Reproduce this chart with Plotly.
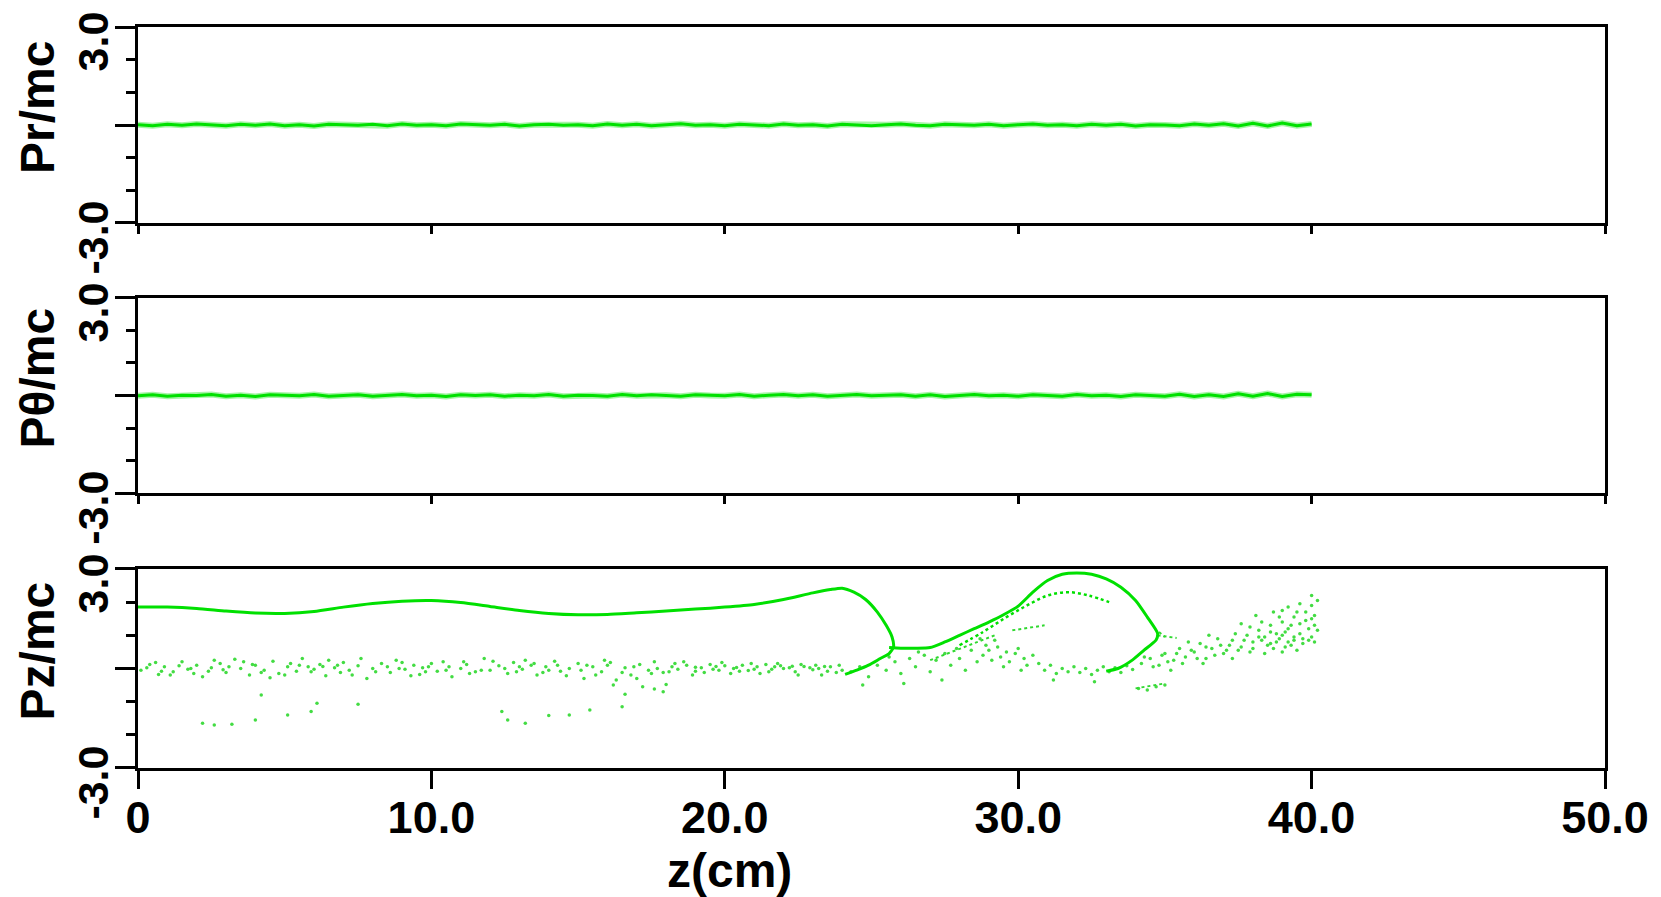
import plotly.graph_objects as go

FONT = "Liberation Sans, Arial, sans-serif"
LINE_GREEN = "#00e000"
DOT_GREEN = "#2fd82f"

# ---- Pr/mc and Ptheta/mc, sampled every 0.5 cm from z = 0 to 40 cm ----
z_step = 0.5
pr_mom = [0.01, -0.02, 0.02, -0.01, 0.03, 0.00, -0.02, 0.02, -0.01, 0.03,
          -0.02, 0.01, -0.03, 0.02, 0.01, -0.01, 0.02, -0.02, 0.03, -0.01,
          0.01, -0.02, 0.03, 0.00, -0.01, 0.02, -0.03, 0.01, 0.02, -0.01,
          0.01, -0.02, 0.03, -0.01, 0.02, -0.02, 0.01, 0.04, -0.01, 0.01,
          -0.02, 0.02, 0.00, -0.02, 0.03, -0.01, 0.01, -0.03, 0.02, 0.01,
          -0.02, 0.01, 0.03, -0.01, -0.02, 0.02, 0.00, -0.01, 0.02, -0.02,
          0.01, 0.03, -0.01, 0.01, -0.02, 0.02, -0.01, 0.02, -0.03, 0.01,
          0.00, -0.02, 0.03, -0.01, 0.04, -0.03, 0.05, -0.03, 0.06, -0.02, 0.03]
pt_mom = [-0.01, 0.02, -0.02, 0.01, 0.00, 0.03, -0.02, 0.01, -0.03, 0.02,
          0.01, -0.01, 0.03, -0.02, 0.00, 0.02, -0.02, 0.01, 0.03, -0.01,
          0.01, -0.03, 0.02, 0.00, 0.02, -0.02, 0.01, -0.01, 0.03, -0.02,
          0.01, 0.00, -0.02, 0.03, -0.01, 0.02, 0.01, -0.02, 0.02, 0.00,
          -0.01, 0.03, -0.02, 0.01, 0.03, -0.01, 0.02, -0.02, 0.01, 0.03,
          -0.01, 0.00, 0.02, -0.02, 0.02, -0.03, 0.01, 0.03, -0.01, 0.01,
          -0.02, 0.02, 0.00, -0.02, 0.03, -0.01, 0.01, -0.03, 0.02, 0.01,
          -0.02, 0.04, -0.03, 0.02, -0.03, 0.05, -0.02, 0.06, -0.03, 0.04, 0.02]

# ---- Pz/mc: main trajectory, from the entrance to the first turning point ----
pz_main_z = [0, 1, 2, 3, 4, 5, 6, 7, 8, 9, 10, 11, 12, 13, 14, 15, 16, 17, 18,
             19, 20, 21, 22, 23, 23.6, 24.0, 24.4, 24.8, 25.2, 25.5, 25.7,
             25.75, 25.6, 25.3, 24.9, 24.5, 24.1]
pz_main_v = [1.85, 1.85, 1.81, 1.73, 1.67, 1.66, 1.72, 1.85, 1.96, 2.03, 2.05,
             1.99, 1.87, 1.75, 1.66, 1.62, 1.63, 1.68, 1.73, 1.79, 1.85, 1.93,
             2.08, 2.28, 2.38, 2.42, 2.30, 2.08, 1.70, 1.30, 0.95, 0.65, 0.45,
             0.30, 0.10, -0.05, -0.18]

# second loop of the trajectory
pz_loop_z = [25.6, 26.0, 26.5, 27.0, 27.5, 28.0, 28.5, 29.0, 29.5, 30.0, 30.5,
             31.0, 31.5, 32.0, 32.5, 33.0, 33.5, 34.0, 34.4, 34.75, 34.7, 34.3,
             33.9, 33.4, 33.0]
pz_loop_v = [0.63, 0.61, 0.61, 0.63, 0.80, 1.00, 1.20, 1.40, 1.62, 1.88, 2.30,
             2.65, 2.84, 2.88, 2.84, 2.70, 2.45, 2.05, 1.55, 1.06, 0.86, 0.56,
             0.26, 0.00, -0.08]

# inner arc inside the second loop
pz_inner_z = [28.0, 28.8, 29.6, 30.3, 31.0, 31.7, 32.4, 33.1]
pz_inner_v = [0.70, 1.10, 1.55, 1.90, 2.20, 2.30, 2.20, 2.00]

# short streaks (None separates segments)
pz_streak_z = [29.8, 30.9, None, 27.0, 28.0, 29.2, None, 34.75, 35.4, None,
               34.8, 35.0, None, 34.0, 35.0]
pz_streak_v = [1.15, 1.30, None, 0.25, 0.60, 1.00, None, 1.00, 0.92, None,
               1.10, 0.95, None, -0.60, -0.45]

# scattered particles, z (cm) and Pz/mc
pz_band_pts = [
    [0.1, -0.05], [0.4, 0.12], [0.7, -0.18], [0.9, 0.05], [1.2, -0.10], [1.5, 0.20],
    [1.7, -0.02], [2.0, 0.10], [2.2, -0.25], [2.5, 0.02], [2.8, 0.15], [3.0, -0.12],
    [3.3, 0.28], [3.5, 0.00], [3.8, -0.20], [4.0, 0.10], [4.3, -0.05], [4.6, 0.22],
    [4.8, -0.15], [5.1, 0.05], [5.4, -0.08], [5.6, 0.30], [5.9, -0.10], [6.2, 0.12],
    [6.4, -0.22], [6.7, 0.02], [7.0, 0.18], [7.2, -0.05], [7.5, 0.08], [7.8, -0.30],
    [8.0, 0.00], [8.3, 0.15], [8.6, -0.12], [8.8, 0.25], [9.1, -0.02], [9.4, 0.10],
    [9.6, -0.18], [9.9, 0.05], [10.2, -0.08], [10.4, 0.20], [10.7, -0.25], [11.0, 0.00],
    [11.2, 0.12], [11.5, -0.10], [11.8, 0.30], [12.0, -0.05], [12.3, 0.08], [12.6, -0.15],
    [12.8, 0.18], [13.1, -0.02], [13.4, 0.10], [13.6, -0.20], [13.9, 0.05], [14.2, 0.22],
    [14.4, -0.08], [14.7, 0.00], [15.0, 0.15], [15.2, -0.30], [15.5, 0.05], [15.8, -0.10],
    [16.0, 0.10], [16.3, -0.35], [16.6, 0.02], [16.8, -0.20], [17.1, 0.12], [17.4, -0.05],
    [17.6, 0.20], [17.9, -0.12], [18.2, 0.05], [18.4, -0.02], [18.7, 0.10], [19.0, -0.08],
    [19.2, 0.02], [19.5, 0.12], [19.8, -0.05], [20.0, 0.08], [20.3, 0.00], [20.6, 0.10],
    [20.8, -0.06], [21.1, 0.05], [21.4, 0.12], [21.6, -0.02], [21.9, 0.08], [22.2, 0.02],
    [22.4, -0.10], [22.7, 0.06], [23.0, -0.04], [23.2, 0.00], [23.5, -0.08], [23.8, -0.12],
    [0.3, 0.02], [0.8, -0.08], [1.4, 0.08], [1.9, -0.15], [2.6, 0.25], [3.1, 0.05],
    [3.9, 0.12], [4.5, -0.28], [5.2, 0.15], [5.8, 0.05], [6.5, 0.25], [6.9, -0.12],
    [7.6, 0.30], [8.1, -0.10], [8.9, 0.00], [9.3, -0.22], [10.0, 0.15], [10.6, 0.05],
    [11.3, -0.15], [12.1, 0.22], [12.9, -0.10], [13.5, 0.15], [14.0, -0.05], [14.6, -0.22],
    [15.3, 0.10], [15.9, 0.25], [16.5, -0.12], [17.0, -0.30], [17.7, 0.00], [18.3, 0.15],
    [18.9, -0.20], [19.6, -0.02], [20.2, -0.15], [20.9, 0.15], [21.5, -0.10], [22.0, 0.00],
    [22.6, 0.12], [23.3, -0.20], [23.6, 0.05], [24.0, -0.05],
    [0.6, 0.18], [1.1, -0.20], [1.8, 0.00], [2.4, -0.08], [3.6, 0.20], [4.2, -0.12],
    [5.0, -0.20], [5.5, 0.10], [6.0, -0.02], [6.8, 0.10], [7.3, -0.20], [8.5, 0.05],
    [9.0, 0.18], [9.8, -0.10], [10.5, -0.05], [11.1, 0.20], [11.7, -0.05], [12.5, 0.00],
    [13.2, 0.25], [13.8, -0.12], [14.3, 0.10], [15.1, -0.05], [15.6, -0.20], [16.1, 0.18],
    [16.9, 0.05], [17.5, -0.15], [18.1, -0.10], [18.6, 0.20], [19.3, -0.12], [19.9, 0.18],
    [20.5, -0.08], [21.2, -0.15], [21.8, 0.15], [22.5, -0.20], [23.1, 0.10], [23.9, 0.10],
    [19.0, 0.04], [19.7, 0.06], [20.4, 0.03], [21.0, -0.02], [21.7, 0.05], [22.3, 0.07],
    [22.9, 0.02], [23.4, 0.06], [2.9, -0.04], [6.3, 0.06], [9.7, 0.02], [13.0, 0.05],
]
pz_stray_pts = [
    [2.2, -1.65], [2.6, -1.70], [3.2, -1.68], [4.0, -1.55], [5.1, -1.40], [5.9, -1.30],
    [7.5, -1.08], [4.2, -0.80], [6.1, -1.05], [12.4, -1.30], [13.2, -1.65], [12.6, -1.55],
    [14.0, -1.42], [14.7, -1.40], [15.4, -1.25], [16.5, -1.15], [16.6, -0.78], [17.2, -0.55],
    [17.6, -0.62], [18.0, -0.48], [17.9, -0.70], [16.2, -0.50],
]
pz_cloud_pts = [
    [24.3, -0.10], [24.6, 0.05], [24.9, -0.25], [25.2, 0.10], [25.5, -0.05], [25.8, 0.20],
    [26.0, -0.15], [26.3, 0.30], [26.5, 0.05], [26.8, 0.40], [27.0, -0.10], [27.2, 0.25],
    [27.5, 0.45], [27.7, 0.10], [28.0, 0.30], [28.2, -0.05], [28.4, 0.55], [24.7, -0.50],
    [26.1, -0.45], [27.4, -0.35], [25.6, 0.35], [26.6, 0.50], [27.9, 0.60],
    [28.6, 0.20], [28.8, 0.40], [29.0, 0.55], [29.1, 0.25], [29.3, 0.65], [29.4, 0.35],
    [29.6, 0.50], [29.7, 0.20], [29.9, 0.45], [30.0, 0.60], [30.2, 0.30], [30.3, 0.10],
    [30.5, 0.40], [28.9, 0.70], [29.5, 0.05], [30.1, -0.05], [28.7, 0.90], [29.2, 0.85],
    [30.7, 0.15], [30.9, -0.05], [31.1, 0.10], [31.3, -0.15], [31.5, 0.00], [31.7, -0.10],
    [31.9, 0.05], [32.1, -0.12], [32.3, 0.00], [32.5, -0.18], [32.7, -0.05], [32.9, 0.05],
    [33.1, -0.10], [33.3, 0.02], [33.5, -0.12], [33.7, 0.08], [33.9, -0.03], [31.2, -0.35],
    [32.6, -0.40],
    [34.2, 0.15], [34.5, 0.30], [34.8, 0.10], [35.0, 0.45], [35.3, 0.25], [35.5, 0.60],
    [35.7, 0.35], [36.0, 0.50], [36.2, 0.75], [36.4, 0.30], [36.6, 0.60], [36.8, 0.90],
    [37.0, 0.45], [37.2, 0.70], [37.4, 1.05], [37.5, 0.55], [37.7, 0.85], [37.9, 1.25],
    [38.0, 0.60], [38.2, 0.95], [38.3, 1.40], [38.5, 0.70], [38.6, 1.10], [38.8, 0.80],
    [38.9, 1.55], [39.0, 1.00], [39.1, 0.65], [39.3, 1.30], [39.4, 0.85], [39.5, 1.70],
    [39.6, 1.05], [39.7, 0.75], [39.8, 1.45], [39.9, 1.20], [40.0, 0.95], [40.0, 1.90],
    [40.1, 1.60], [40.1, 1.30], [40.2, 2.05], [39.2, 1.85], [38.7, 1.70], [38.1, 1.60],
    [37.6, 1.35], [36.5, 1.00], [35.8, 0.80], [39.0, 0.50], [39.5, 0.55], [38.4, 0.45],
    [37.3, 0.30], [36.3, 0.15], [35.2, -0.05], [34.1, -0.60], [34.4, -0.65], [34.7, -0.55],
    [35.0, -0.50], [38.6, 0.75], [38.9, 0.90], [39.2, 0.80], [39.4, 0.95], [39.7, 0.90],
    [39.1, 1.10], [38.3, 0.85],
    [34.3, 0.35], [34.6, 0.05], [34.9, 0.40], [35.1, 0.20], [35.4, 0.45], [35.6, 0.15],
    [35.9, 0.55], [36.1, 0.30], [36.4, 0.65], [36.7, 0.40], [36.9, 0.70], [37.1, 0.55],
    [37.3, 0.85], [37.6, 0.65], [37.8, 1.00], [38.0, 0.80], [38.2, 1.15], [38.4, 0.95],
    [38.6, 1.30], [38.8, 1.05], [39.0, 1.40], [39.2, 1.20], [39.4, 1.55], [39.6, 1.35],
    [39.8, 1.70], [40.0, 1.50], [40.1, 0.80], [40.2, 1.15], [39.9, 0.85], [39.3, 0.70],
    [38.7, 0.60], [37.9, 0.50], [40.0, 2.20], [39.6, 1.95], [39.0, 1.75],
]

# axis ticks and labels
z_ticks = [0, 10, 20, 30, 40, 50]
z_tick_text = ["0", "10.0", "20.0", "30.0", "40.0", "50.0"]
p_ticks = [-3, 0, 3]
p_tick_text = ["-3.0", "", "3.0"]
p_minor_ticks = [-2, -1, 1, 2]
panel_titles = ["Pr/mc", "P\u03b8/mc", "Pz/mc"]

dots = pz_band_pts + pz_stray_pts + pz_cloud_pts
dot_z = [p[0] for p in dots]
dot_v = [p[1] for p in dots]

fig = go.Figure()

for i, mom in enumerate([pr_mom, pt_mom]):
    xa, ya = ("x", "y") if i == 0 else ("x2", "y2")
    fig.add_trace(go.Scatter(x0=0, dx=z_step, y=mom, mode="lines",
                             line=dict(color=LINE_GREEN, width=6), opacity=0.35,
                             xaxis=xa, yaxis=ya))
    fig.add_trace(go.Scatter(x0=0, dx=z_step, y=mom, mode="lines",
                             line=dict(color=LINE_GREEN, width=3),
                             xaxis=xa, yaxis=ya))

fig.add_trace(go.Scatter(x=dot_z, y=dot_v, mode="markers",
                         marker=dict(color=DOT_GREEN, size=3.5, opacity=0.9,
                                     line=dict(width=0)),
                         xaxis="x3", yaxis="y3"))
fig.add_trace(go.Scatter(x=pz_streak_z, y=pz_streak_v, mode="lines",
                         line=dict(color=DOT_GREEN, width=2, dash="dot"),
                         xaxis="x3", yaxis="y3"))
fig.add_trace(go.Scatter(x=pz_inner_z, y=pz_inner_v, mode="lines",
                         line=dict(color=LINE_GREEN, width=2.5, dash="dot", shape="spline"),
                         xaxis="x3", yaxis="y3"))
fig.add_trace(go.Scatter(x=pz_loop_z, y=pz_loop_v, mode="lines",
                         line=dict(color=LINE_GREEN, width=3, shape="spline", smoothing=0.6),
                         xaxis="x3", yaxis="y3"))
fig.add_trace(go.Scatter(x=pz_main_z, y=pz_main_v, mode="lines",
                         line=dict(color=LINE_GREEN, width=3, shape="spline", smoothing=0.6),
                         xaxis="x3", yaxis="y3"))

x_common = dict(range=[0, 50], showgrid=False, zeroline=False, showline=True,
                linecolor="black", linewidth=2.5, mirror=True, ticks="outside",
                tickvals=z_ticks, ticktext=z_tick_text, tickwidth=3, tickcolor="black",
                automargin=False, ticklabelstandoff=-10,
                tickfont=dict(family=FONT, size=45, color="black", weight="bold"))
y_common = dict(range=[-3, 3], showgrid=False, zeroline=False, showline=True,
                linecolor="black", linewidth=2.5, mirror=True, ticks="outside",
                tickvals=p_ticks, ticktext=p_tick_text, ticklen=20, tickwidth=3,
                tickcolor="black", tickangle=-90, ticklabelshift=21,
                ticklabelstandoff=-10, automargin=False,
                tickfont=dict(family=FONT, size=43, color="black", weight="bold"),
                minor=dict(tickvals=p_minor_ticks, ticks="outside", ticklen=9,
                           tickwidth=3, tickcolor="black"))

domains = [[0.7355, 1.0], [0.3711, 0.6343], [0.0, 0.2686]]

fig.update_layout(
    width=1661, height=897,
    margin=dict(l=138, r=56, t=27, b=129, autoexpand=False),
    paper_bgcolor="white", plot_bgcolor="white",
    showlegend=False,
    xaxis=dict(x_common, anchor="y", showticklabels=False, ticklen=8),
    xaxis2=dict(x_common, anchor="y2", showticklabels=False, ticklen=8),
    xaxis3=dict(x_common, anchor="y3", ticklen=18),
    yaxis=dict(y_common, domain=domains[0], anchor="x"),
    yaxis2=dict(y_common, domain=domains[1], anchor="x2"),
    yaxis3=dict(y_common, domain=domains[2], anchor="x3"),
)

annotations = []
for i, title in enumerate(panel_titles):
    yref = "y domain" if i == 0 else f"y{i + 1} domain"
    annotations.append(dict(text=title, xref="paper", x=-0.0682, xanchor="center",
                            yref=yref, y=0.5, yanchor="middle", yshift=18,
                            textangle=-90, showarrow=False,
                            font=dict(family=FONT, size=48, color="black", weight="bold")))
annotations.append(dict(text="z(cm)", xref="paper", x=0.4035, xanchor="center",
                        yref="paper", y=-0.1377, yanchor="middle", showarrow=False,
                        font=dict(family=FONT, size=48, color="black", weight="bold")))
fig.update_layout(annotations=annotations)

fig.write_html("out.html")
